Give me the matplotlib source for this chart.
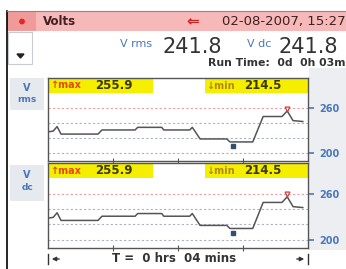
import matplotlib.pyplot as plt
from matplotlib.patches import Rectangle, Circle, Polygon

# ---- data ----
t_min = [0, 0.08, 0.14, 0.2, 0.77, 0.83, 1.34, 1.38, 1.75, 1.78, 2.18, 2.22,
         2.34, 2.75, 2.8, 3.15, 3.31, 3.6, 3.68, 3.77, 3.92]
v_rms = [228, 229, 235, 225, 225, 230.5, 230.5, 234, 234, 230.5, 230.5, 234,
         218.5, 218.5, 214.5, 214.5, 248.5, 248.5, 255.9, 243, 241.8]
v_dc = [228, 229, 235, 225, 225, 230.5, 230.5, 234, 234, 230.5, 230.5, 234,
        218.5, 218.5, 214.5, 214.5, 248.5, 248.5, 255.9, 243, 241.8]
v_max = 255.9
v_min = 214.5
t_at_max = 3.68
t_at_min = 2.85
y_ticks = [200, 260]
grid_levels = [220, 240]
reading_rms = "241.8"
reading_dc = "241.8"
date_str = "02-08-2007, 15:27"
run_time = "Run Time:  0d  0h 03m"
span_str = "T =  0 hrs  04 mins"

W, H = 346, 269
BLUE = "#4a78b8"
DARK = "#333333"

fig = plt.figure(figsize=(W / 100, H / 100), dpi=100)
fig.patch.set_facecolor("white")

# overlay in pixel units for the screen furniture
bg = fig.add_axes([0, 0, 1, 1])
bg.set_xlim(0, W)
bg.set_ylim(H, 0)
bg.axis("off")

# outer frame
bg.plot([6.5, 6.5], [11, H], color="black", lw=1.2)
bg.plot([6.5, W], [11, 11], color="#888888", lw=0.8)

# pink title bar
bg.add_patch(Rectangle((7, 11.5), W - 7, 19.5, color="#f6b8b8", lw=0))
bg.add_patch(Rectangle((7, 11.5), 29, 19.5, color="#f19a9a", lw=0))
bg.add_patch(Circle((22, 21.5), 2.2, color="#e02828"))
bg.text(43, 21.5, "Volts", fontsize=8.5, fontweight="bold", color="#402020",
        va="center", ha="left")
bg.text(186, 21.5, "\u21d0", fontsize=11, fontweight="bold", color="#d02020",
        va="center", ha="left")
bg.text(346, 21.5, date_str, fontsize=9.5, color="#402020", va="center",
        ha="right")

# scroll button
bg.add_patch(Rectangle((8, 32), 24, 32, facecolor="white", edgecolor="#c8ccd0",
                       lw=0.8))
bg.add_patch(Polygon([[17, 54], [24, 54], [20.5, 58]], color="#222222"))

# header readings
bg.text(120, 47, "V rms", fontsize=8, color=BLUE, va="baseline", ha="left")
bg.text(163, 53, reading_rms, fontsize=15, color=DARK, va="baseline",
        ha="left")
bg.text(247, 47, "V dc", fontsize=8, color=BLUE, va="baseline", ha="left")
bg.text(278, 53, reading_dc, fontsize=15, color=DARK, va="baseline",
        ha="left")
bg.text(346, 66, run_time, fontsize=7.8, fontweight="bold", color=DARK,
        va="baseline", ha="right")

# side panels
bg.add_patch(Rectangle((309, 68), W - 309, 182, color="#eceef1", lw=0))
bg.add_patch(Rectangle((10, 78), 34, 32, color="#e6e9ee", lw=0))
bg.add_patch(Rectangle((10, 165), 34, 36, color="#e6e9ee", lw=0))
bg.text(27, 88, "V", fontsize=7, fontweight="bold", color=BLUE,
        ha="center", va="center")
bg.text(27, 100, "rms", fontsize=6.5, fontweight="bold", color=BLUE,
        ha="center", va="center")
bg.text(27, 175, "V", fontsize=7, fontweight="bold", color=BLUE,
        ha="center", va="center")
bg.text(27, 187, "dc", fontsize=6.5, fontweight="bold", color=BLUE,
        ha="center", va="center")

# time span line under the charts
bg.text(174, 259, span_str, fontsize=8.5, fontweight="bold", color=DARK,
        ha="center", va="center")
bg.annotate("", xy=(49, 259), xytext=(62, 259),
            arrowprops=dict(arrowstyle="-|>", color=DARK, lw=1,
                            mutation_scale=6))
bg.annotate("", xy=(307, 259), xytext=(294, 259),
            arrowprops=dict(arrowstyle="-|>", color=DARK, lw=1,
                            mutation_scale=6))
bg.plot([48, 48], [254, 264], color=DARK, lw=1)
bg.plot([308, 308], [254, 264], color=DARK, lw=1)


def chart(top, bottom, values):
    ax = fig.add_axes([48 / W, 1 - bottom / H, 260 / W, (bottom - top) / H])
    ax.set_xlim(0, 4)
    ax.set_ylim(189, 300)
    ax.set_facecolor("white")
    for s in ax.spines.values():
        s.set_color("#555555")
        s.set_linewidth(1.0)
    # yellow min / max bands
    band = 15 / (bottom - top)
    ax.add_patch(Rectangle((0, 1 - band), 105 / 260, band, color="#f6ee00",
                           transform=ax.transAxes, lw=0, zorder=1))
    ax.add_patch(Rectangle((157 / 260, 1 - band), 103 / 260, band,
                           color="#f6ee00", transform=ax.transAxes, lw=0,
                           zorder=1))
    ax.text(0.01, 1 - band / 2, "\u2191max", transform=ax.transAxes,
            fontsize=7, fontweight="bold", color="#e04a10", va="center")
    ax.text(0.18, 1 - band / 2, f"{v_max}", transform=ax.transAxes,
            fontsize=8.5, fontweight="bold", color="#3a3a00", va="center")
    ax.text(0.608, 1 - band / 2, "\u2193min", transform=ax.transAxes,
            fontsize=7, fontweight="bold", color="#b08a10", va="center")
    ax.text(0.755, 1 - band / 2, f"{v_min}", transform=ax.transAxes,
            fontsize=8.5, fontweight="bold", color="#3a3a00", va="center")
    # grid
    ax.axhline(y_ticks[1], color="#e8a0a0", lw=0.8, ls=(0, (2, 2)))
    for g in grid_levels + [y_ticks[0]]:
        ax.axhline(g, color="#a8b4c4", lw=0.8, ls=(0, (2, 2)))
    # trace
    ax.plot(t_min, values, color="#555555", lw=1.1, zorder=3)
    ax.plot([t_at_max], [v_max + 3], marker="v", ms=3.5, mfc="none",
            mec="#d04040", mew=0.9, zorder=4)
    ax.plot([t_at_min], [v_min - 6], marker="s", ms=2.5, color="#305070",
            zorder=4)
    # ticks
    ax.set_xticks([1, 2, 3])
    ax.tick_params(axis="x", direction="inout", length=4, color="#555555",
                   labelbottom=False)
    ax.yaxis.tick_right()
    ax.set_yticks(y_ticks)
    ax.set_yticklabels([str(v) for v in y_ticks])
    ax.tick_params(axis="y", direction="out", length=4, width=1.2,
                   color=BLUE, labelcolor=BLUE, labelsize=7, pad=4)
    for lbl in ax.get_yticklabels():
        lbl.set_fontweight("bold")
    return ax


chart(78, 161, v_rms)
chart(163, 248, v_dc)

fig.savefig("out.png", dpi=100, facecolor="white")
